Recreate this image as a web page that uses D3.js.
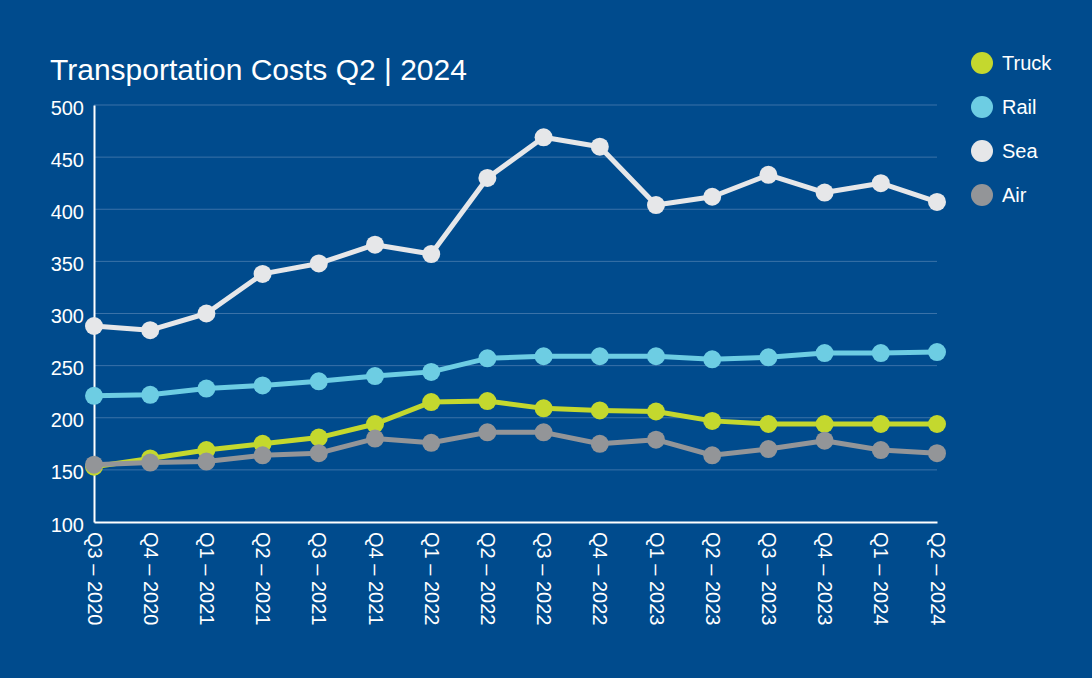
<!DOCTYPE html>
<html>
<head>
<meta charset="utf-8">
<script src="https://cdn.jsdelivr.net/npm/d3@7"></script>
<style>
  html, body { margin: 0; padding: 0; background: #004b8d; }
  svg { display: block; font-family: 'Liberation Sans', Arial, sans-serif; }
</style>
</head>
<body>
<svg id="chart"></svg>
<script>
const quarters = ['Q3 – 2020', 'Q4 – 2020', 'Q1 – 2021', 'Q2 – 2021', 'Q3 – 2021', 'Q4 – 2021',
  'Q1 – 2022', 'Q2 – 2022', 'Q3 – 2022', 'Q4 – 2022', 'Q1 – 2023', 'Q2 – 2023',
  'Q3 – 2023', 'Q4 – 2023', 'Q1 – 2024', 'Q2 – 2024'];
const truck = [153, 161, 169, 175, 181, 194, 215, 216, 209, 207, 206, 197, 194, 194, 194, 194];
const rail = [221, 222, 228, 231, 235, 240, 244, 257, 259, 259, 259, 256, 258, 262, 262, 263];
const sea = [288, 284, 300, 338, 348, 366, 357, 430, 469, 460, 404, 412, 433, 416, 425, 407];
const air = [155, 157, 158, 164, 166, 180, 176, 186, 186, 175, 179, 164, 170, 178, 169, 166];
const yTicks = [100, 150, 200, 250, 300, 350, 400, 450, 500];

const series = [
  {name: 'Truck', values: truck, color: '#c4d82e'},
  {name: 'Rail', values: rail, color: '#6dcde3'},
  {name: 'Sea', values: sea, color: '#e6e7e9'},
  {name: 'Air', values: air, color: '#939598'},
];

const width = 1092, height = 678;
const margin = {top: 105, right: 155, bottom: 156, left: 94};

const svg = d3.select('#chart')
  .attr('width', width)
  .attr('height', height);

svg.append('rect')
  .attr('width', width)
  .attr('height', height)
  .attr('fill', '#004b8d');

svg.append('text')
  .attr('x', 50)
  .attr('y', 80)
  .attr('fill', '#ffffff')
  .style('font-size', '30px')
  .text('Transportation Costs Q2 | 2024');

const x = d3.scalePoint()
  .domain(quarters)
  .range([margin.left, width - margin.right]);

const y = d3.scaleLinear()
  .domain([100, 500])
  .range([height - margin.bottom, margin.top]);

// gridlines
svg.append('g')
  .selectAll('line')
  .data(yTicks.slice(1))
  .enter()
  .append('line')
  .attr('x1', margin.left)
  .attr('x2', width - margin.right)
  .attr('y1', (d) => y(d))
  .attr('y2', (d) => y(d))
  .attr('stroke', '#3a72a8')
  .attr('stroke-width', 1);

// y axis
const yAxis = svg.append('g')
  .attr('transform', `translate(${margin.left},0)`)
  .call(d3.axisLeft(y).tickValues(yTicks).tickSize(0).tickPadding(10));
yAxis.select('.domain').attr('stroke', '#ffffff').attr('stroke-width', 2);
yAxis.selectAll('text')
  .attr('fill', '#ffffff')
  .attr('dy', '0.45em')
  .style('font-size', '20px')
  .style('font-family', "'Liberation Sans', Arial, sans-serif");

// x axis
const xAxis = svg.append('g')
  .attr('transform', `translate(0,${height - margin.bottom})`)
  .call(d3.axisBottom(x).tickSize(0).tickPadding(0));
xAxis.select('.domain').attr('stroke', '#ffffff').attr('stroke-width', 2);
xAxis.selectAll('text')
  .attr('fill', '#ffffff')
  .style('font-size', '20px')
  .style('font-family', "'Liberation Sans', Arial, sans-serif")
  .attr('transform', 'rotate(90)')
  .attr('x', 10)
  .attr('y', 0)
  .attr('dy', '0.35em')
  .style('text-anchor', 'start');

const line = d3.line()
  .x((d, i) => x(quarters[i]))
  .y((d) => y(d));

const graph = svg.selectAll('.series')
  .data(series)
  .enter()
  .append('g')
  .attr('class', 'series');

graph.append('path')
  .attr('fill', 'none')
  .attr('stroke', (d) => d.color)
  .attr('stroke-width', 5)
  .attr('stroke-linejoin', 'round')
  .attr('d', (d) => line(d.values));

graph.selectAll('circle')
  .data((d) => d.values.map((v, i) => ({v: v, i: i, color: d.color})))
  .enter()
  .append('circle')
  .attr('cx', (d) => x(quarters[d.i]))
  .attr('cy', (d) => y(d.v))
  .attr('r', 9)
  .attr('fill', (d) => d.color);

// legend
const legend = svg.append('g')
  .attr('transform', 'translate(982, 63)');

legend.selectAll('circle')
  .data(series)
  .enter()
  .append('circle')
  .attr('cx', 0)
  .attr('cy', (d, i) => i * 44)
  .attr('r', 11)
  .attr('fill', (d) => d.color);

legend.selectAll('text')
  .data(series)
  .enter()
  .append('text')
  .attr('x', 20)
  .attr('y', (d, i) => i * 44)
  .attr('dy', '0.35em')
  .attr('fill', '#ffffff')
  .style('font-size', '20px')
  .text((d) => d.name);
</script>
</body>
</html>
